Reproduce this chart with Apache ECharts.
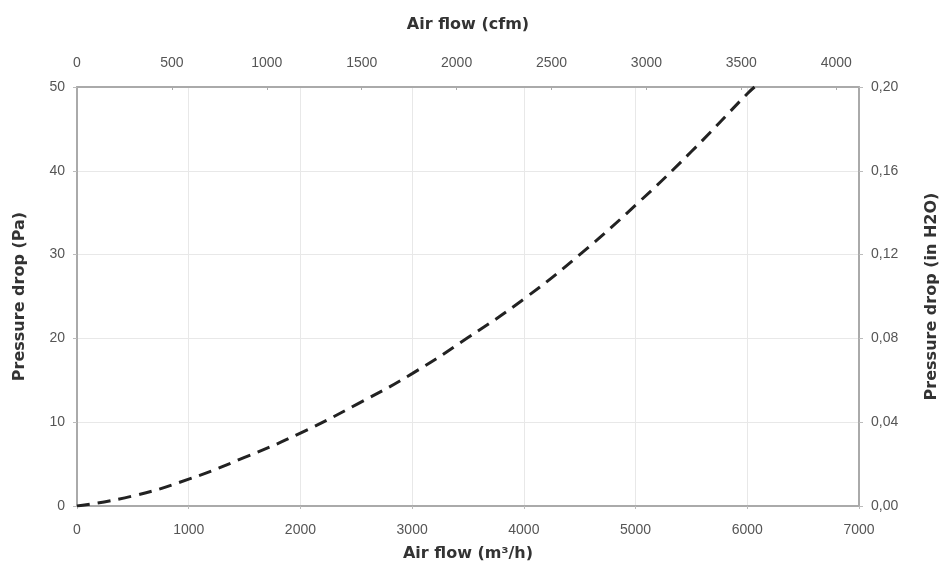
<!DOCTYPE html>
<html>
<head>
<meta charset="utf-8">
<script src="https://cdn.jsdelivr.net/npm/echarts@6/dist/echarts.min.js"></script>
<style>html,body{margin:0;padding:0;background:#fff;}#c{width:941px;height:566px;}</style>
</head>
<body>
<div id="c"></div>
<script>
// Data
const airflowM3h = [0, 500, 1000, 1500, 2000, 2500, 3000, 3500, 4000, 4500, 5000, 5500, 6000, 6065];
const pressurePa = [0, 1.2, 3.2, 5.8, 8.7, 12.1, 15.8, 20.1, 24.7, 30.0, 35.9, 42.3, 49.2, 50];
const bottomAxisMax = 7000;   // m3/h
const topAxisMax = 4120;      // cfm (7000 m3/h)
const leftAxisMax = 50;       // Pa
const rightAxisMax = 0.20;    // in H2O

const labelFont = { color: '#555', fontSize: 14, fontFamily: 'Liberation Sans, Arial, sans-serif' };
const nameFont = { color: '#333', fontSize: 16, fontWeight: 'bold', fontFamily: 'DejaVu Sans, sans-serif' };
const axisLineStyle = { color: '#aaa', width: 2 };
const plain = v => String(v);

const chart = echarts.init(document.getElementById('c'), null, { renderer: 'canvas' });
chart.setOption({
  animation: false,
  grid: { left: 77, right: 82, top: 87, bottom: 60, containLabel: false, outerBoundsMode: 'none' },
  xAxis: [
    {
      type: 'value', position: 'bottom', min: 0, max: bottomAxisMax, interval: 1000,
      name: 'Air flow (m³/h)', nameLocation: 'middle', nameGap: 40, nameTextStyle: nameFont,
      axisLine: { show: true, onZero: false, lineStyle: axisLineStyle },
      axisTick: { show: true, length: 3, lineStyle: { color: '#bbb' } },
      axisLabel: Object.assign({ margin: 17, formatter: plain }, labelFont),
      splitLine: { show: true, lineStyle: { color: '#e8e8e8', width: 1 } }
    },
    {
      type: 'value', position: 'top', min: 0, max: topAxisMax, interval: 500,
      name: 'Air flow (cfm)', nameLocation: 'middle', nameGap: 54, nameTextStyle: nameFont,
      axisLine: { show: true, onZero: false, lineStyle: axisLineStyle },
      axisTick: { show: true, length: 3, inside: true, lineStyle: { color: '#aaa' } },
      axisLabel: Object.assign({ margin: 17, showMaxLabel: false, formatter: plain }, labelFont),
      splitLine: { show: false }
    }
  ],
  yAxis: [
    {
      type: 'value', position: 'left', min: 0, max: leftAxisMax, interval: 10,
      name: 'Pressure drop (Pa)', nameLocation: 'middle', nameGap: 49, nameRotate: 90, nameTextStyle: nameFont,
      axisLine: { show: true, onZero: false, lineStyle: axisLineStyle },
      axisTick: { show: true, length: 4, lineStyle: { color: '#bbb' } },
      axisLabel: Object.assign({ margin: 12, formatter: plain }, labelFont),
      splitLine: { show: true, lineStyle: { color: '#e8e8e8', width: 1 } }
    },
    {
      type: 'value', position: 'right', min: 0, max: rightAxisMax, interval: 0.04,
      name: 'Pressure drop (in H2O)', nameLocation: 'middle', nameGap: 65, nameRotate: 90, nameTextStyle: nameFont,
      axisLine: { show: true, onZero: false, lineStyle: axisLineStyle },
      axisTick: { show: true, length: 4, lineStyle: { color: '#bbb' } },
      axisLabel: Object.assign({ margin: 12, formatter: v => v.toFixed(2).replace('.', ',') }, labelFont),
      splitLine: { show: false }
    }
  ],
  series: [{
    type: 'line', xAxisIndex: 0, yAxisIndex: 0, smooth: true, showSymbol: false,
    data: airflowM3h.map((x, i) => [x, pressurePa[i]]),
    lineStyle: { color: '#222', width: 3, type: [13, 8] }
  }]
});
</script>
</body>
</html>
